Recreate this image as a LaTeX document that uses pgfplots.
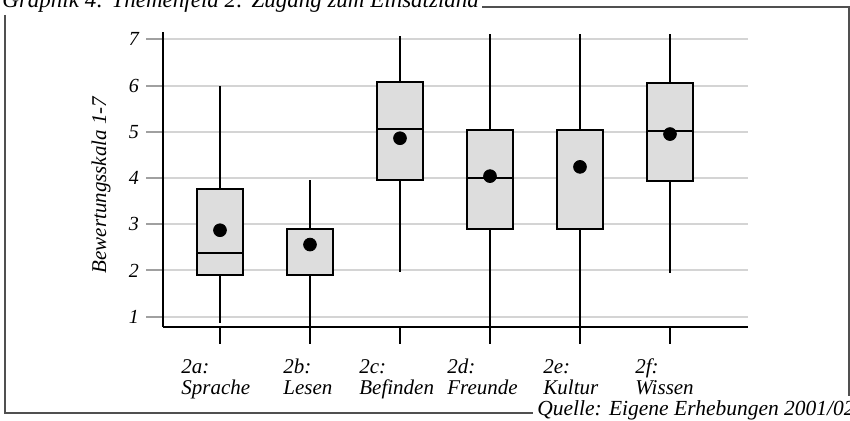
\documentclass[border=0pt]{standalone}
\usepackage{fontspec}
\setmainfont{Liberation Serif}
\usepackage{pgfplots}
\pgfplotsset{compat=1.18}
\usepgfplotslibrary{statistics}
\definecolor{boxgray}{RGB}{221,221,221}
\definecolor{gridgray}{RGB}{212,212,212}
\definecolor{tickgray}{RGB}{160,160,160}
\definecolor{framegray}{RGB}{80,80,80}
\begin{document}
\begin{tikzpicture}[x=0.5pt,y=0.5pt]
\useasboundingbox (0,0) rectangle (850,421);
\clip (0,0) rectangle (850,421);
\begin{axis}[
  at={(81.5pt,47pt)}, anchor=south west,
  scale only axis, width=292.5pt, height=147.65pt,
  xmin=-0.6333, xmax=5.8667, ymin=0.777, ymax=7.164,
  axis x line*=bottom, axis y line*=left,
  axis line style={-, line width=1.1pt, black},
  xtick={0,1,2,3,4,5}, xticklabels={},
  ytick={1,2,3,4,5,6,7},
  tick align=outside, major tick length=8.5pt,
  xtick style={draw=black, line width=1pt},
  ytick style={draw=tickgray, line width=1pt},
  ymajorgrids, major grid style={draw=gridgray, line width=1pt},
  /pgf/number format/assume math mode=true,
  ticklabel style={font=\fontsize{10}{12}\selectfont\itshape},
  boxplot/draw direction=y,
  boxplot/box extend=0.52,
  boxplot/whisker extend=0,
]
\addplot[draw=black, fill=boxgray, line width=1pt, boxplot prepared={draw position=0, lower whisker=0.87, lower quartile=1.90, median=2.38, upper quartile=3.77, upper whisker=6.00}] coordinates {};
\addplot[draw=black, fill=boxgray, line width=1pt, boxplot prepared={draw position=1, lower whisker=0.70, lower quartile=1.90, median=2.90, upper quartile=2.90, upper whisker=3.95}] coordinates {};
\addplot[draw=black, fill=boxgray, line width=1pt, boxplot prepared={draw position=2, lower whisker=1.96, lower quartile=3.96, median=5.06, upper quartile=6.07, upper whisker=7.08}] coordinates {};
\addplot[draw=black, fill=boxgray, line width=1pt, boxplot prepared={draw position=3, lower whisker=0.70, lower quartile=2.90, median=4.00, upper quartile=5.04, upper whisker=7.12}] coordinates {};
\addplot[draw=black, fill=boxgray, line width=1pt, boxplot prepared={draw position=4, lower whisker=0.70, lower quartile=2.90, median=5.04, upper quartile=5.04, upper whisker=7.12}] coordinates {};
\addplot[draw=black, fill=boxgray, line width=1pt, boxplot prepared={draw position=5, lower whisker=1.94, lower quartile=3.93, median=5.02, upper quartile=6.05, upper whisker=7.12}] coordinates {};
\addplot[only marks, mark=*, mark size=3.2pt, black] coordinates {(0,2.87) (1,2.56) (2,4.86) (3,4.04) (4,4.24) (5,4.95)};
\end{axis}
\draw[framegray, line width=0.6pt] (482,414) -- (849,414) -- (849,25);
\draw[framegray, line width=0.6pt] (5,406) -- (5,8) -- (533,8);
\node[anchor=base west, inner sep=0, font=\fontsize{11.5}{13}\selectfont\itshape] at (2,413) {Graphik 4: Themenfeld 2: Zugang zum Einsatzland};
\node[anchor=base west, inner sep=0, font=\fontsize{10.75}{13}\selectfont\itshape] at (537,5) {Quelle: Eigene Erhebungen 2001/02};
\node[rotate=90, inner sep=0, font=\fontsize{10.5}{12}\selectfont\itshape] at (101,236) {Bewertungsskala 1-7};
\begin{scope}[every node/.style={anchor=base west, inner sep=0, font=\fontsize{10.5}{12}\selectfont\itshape}]
\node at (181,47) {2a:}; \node at (181,26) {Sprache};
\node at (283,47) {2b:}; \node at (283,26) {Lesen};
\node at (359,47) {2c:}; \node at (359,26) {Befinden};
\node at (447,47) {2d:}; \node at (447,26) {Freunde};
\node at (543,47) {2e:}; \node at (543,26) {Kultur};
\node at (635,47) {2f:}; \node at (635,26) {Wissen};
\end{scope}
\end{tikzpicture}
\end{document}
